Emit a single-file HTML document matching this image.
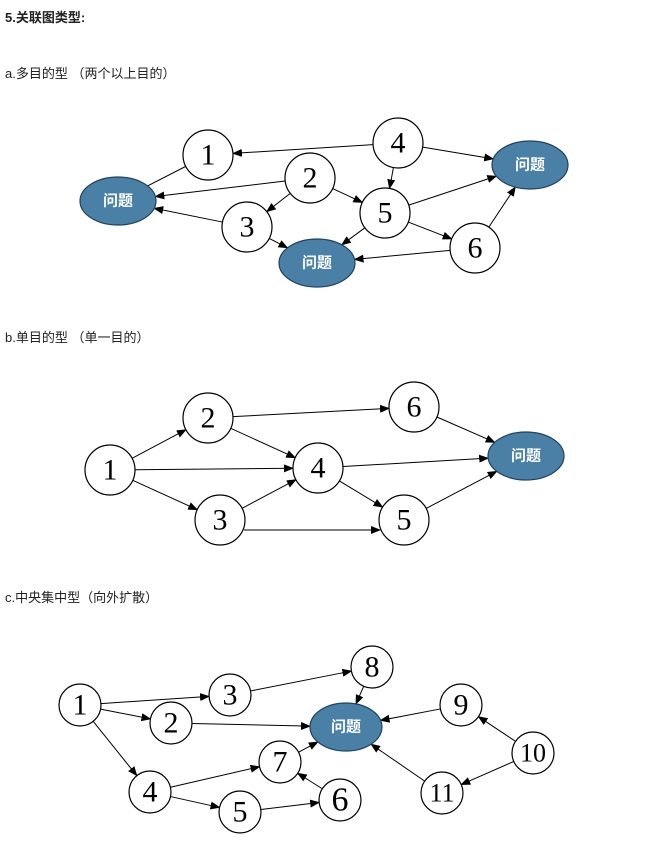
<!DOCTYPE html>
<html><head><meta charset="utf-8"><style>
body{margin:0;background:#fff;width:649px;height:842px;overflow:hidden}
svg{position:absolute;left:0;top:0}
.t{font-family:"Liberation Sans","Noto Sans CJK SC",sans-serif;font-size:13px;fill:#222}
.n{font-family:"Liberation Serif",serif;font-size:30px;text-anchor:middle;dominant-baseline:central;fill:#000}
.q{font-family:"Liberation Sans","Noto Sans CJK SC",sans-serif;font-size:15px;font-weight:bold;text-anchor:middle;dominant-baseline:central;fill:#fff}
circle{fill:#fff;stroke:#000;stroke-width:1.2}
ellipse{fill:#4a7fa6;stroke:#1f4260;stroke-width:1.2}
line{stroke:#000;stroke-width:1}
</style></head><body>
<svg width="649" height="842" id="s">
<defs><marker id="a" markerWidth="10" markerHeight="8" refX="9" refY="4" orient="auto" markerUnits="userSpaceOnUse"><path d="M0,0 L10,4 L0,8z" fill="#000"/></marker></defs>
<text class="t" x="5" y="22" style="font-weight:bold">5.关联图类型:</text>
<text class="t" x="5" y="78">a.多目的型 （两个以上目的）</text>
<text class="t" x="5" y="342">b.单目的型 （单一目的）</text>
<text class="t" x="5" y="602">c.中央集中型（向外扩散）</text>
<g id="edges"></g>
<g id="nodes">
<!-- a -->
<circle id="a1" cx="208" cy="155" r="25"/><text class="n" x="208" y="155">1</text>
<circle id="a4" cx="398" cy="143" r="25"/><text class="n" x="398" y="143">4</text>
<circle id="a2" cx="310" cy="178" r="25"/><text class="n" x="310" y="178">2</text>
<circle id="a3" cx="247" cy="227" r="25"/><text class="n" x="247" y="227">3</text>
<circle id="a5" cx="385" cy="213" r="25"/><text class="n" x="385" y="213">5</text>
<circle id="a6" cx="475" cy="248" r="25"/><text class="n" x="475" y="248">6</text>
<ellipse id="aqL" cx="118" cy="201" rx="38" ry="24"/><text class="q" x="118" y="201">问题</text>
<ellipse id="aqR" cx="530" cy="165" rx="38" ry="24"/><text class="q" x="530" y="165">问题</text>
<ellipse id="aqB" cx="317" cy="263" rx="38" ry="24"/><text class="q" x="317" y="263">问题</text>
<!-- b -->
<circle id="b1" cx="110" cy="470" r="25"/><text class="n" x="110" y="470">1</text>
<circle id="b2" cx="208" cy="418" r="25"/><text class="n" x="208" y="418">2</text>
<circle id="b6" cx="414" cy="407" r="25"/><text class="n" x="414" y="407">6</text>
<circle id="b4" cx="318" cy="468" r="25"/><text class="n" x="318" y="468">4</text>
<circle id="b3" cx="220" cy="520" r="25"/><text class="n" x="220" y="520">3</text>
<circle id="b5" cx="404" cy="520" r="25"/><text class="n" x="404" y="520">5</text>
<ellipse id="bq" cx="526" cy="456" rx="38" ry="24"/><text class="q" x="526" y="456">问题</text>
<!-- c -->
<circle id="c1" cx="80" cy="705" r="21"/><text class="n" x="80" y="705">1</text>
<circle id="c3" cx="230" cy="695" r="21"/><text class="n" x="230" y="695">3</text>
<circle id="c8" cx="372" cy="667" r="21"/><text class="n" x="372" y="667">8</text>
<circle id="c2" cx="171" cy="723" r="21"/><text class="n" x="171" y="723">2</text>
<circle id="c9" cx="461" cy="705" r="21"/><text class="n" x="461" y="705">9</text>
<circle id="c10" cx="533" cy="753" r="21"/><text class="n" x="533" y="753" style="font-size:26px">10</text>
<circle id="c11" cx="442" cy="793" r="21"/><text class="n" x="442" y="793" style="font-size:26px">11</text>
<circle id="c7" cx="280" cy="762" r="21"/><text class="n" x="280" y="762">7</text>
<circle id="c4" cx="150" cy="792" r="21"/><text class="n" x="150" y="792">4</text>
<circle id="c5" cx="240" cy="812" r="21"/><text class="n" x="240" y="812">5</text>
<circle id="c6" cx="340" cy="800" r="21"/><text class="n" x="340" y="800" style="font-size:34px">6</text>
<ellipse id="cq" cx="346" cy="727" rx="36" ry="24"/><text class="q" x="346" y="727">问题</text>
</g>
</svg>
<script>
var E=[["a1","aqL",0],["a4","a1"],["a4","a5"],["a4","aqR"],["a2","aqL"],["a2","a3"],["a2","a5"],["a3","aqL"],["a3","aqB"],["a5","aqR"],["a5","a6"],["a5","aqB"],["a6","aqR"],["a6","aqB"],
["b1","b2"],["b1","b4"],["b1","b3"],["b2","b6"],["b2","b4"],["b3","b4"],["b3","b5"],["b4","bq"],["b4","b5"],["b6","bq"],["b5","bq"],
["c1","c3"],["c1","c2"],["c1","c4"],["c3","c8"],["c8","cq"],["c2","cq"],["c4","c7"],["c4","c5"],["c5","c6"],["c6","c7"],["c7","cq"],["c9","cq"],["c10","c9"],["c10","c11"],["c11","cq"]];
function g(id){var e=document.getElementById(id);var c=e.tagName=="circle";return{x:+e.getAttribute("cx"),y:+e.getAttribute("cy"),rx:+e.getAttribute(c?"r":"rx"),ry:+e.getAttribute(c?"r":"ry")}}
function b(n,dx,dy){var t=1/Math.sqrt(dx*dx/(n.rx*n.rx)+dy*dy/(n.ry*n.ry));return[n.x+dx*t,n.y+dy*t]}
var G=document.getElementById("edges"),ns="http://www.w3.org/2000/svg";
E.forEach(function(e){var A=g(e[0]),B=g(e[1]);var dx=B.x-A.x,dy=B.y-A.y;if(e[0]=="b3"&&e[1]=="b5"){dy=B.y+10-A.y;}
var p=b(A,dx,dy),q=b(B,-dx,-dy);if(e[0]=="b3"&&e[1]=="b5"){p=[A.x+24,530];q=[B.x-24,530];}
var l=document.createElementNS(ns,"line");l.setAttribute("x1",p[0]);l.setAttribute("y1",p[1]);l.setAttribute("x2",q[0]);l.setAttribute("y2",q[1]);if(e[2]!==0)l.setAttribute("marker-end","url(#a)");G.appendChild(l);});
</script>
</body></html>
